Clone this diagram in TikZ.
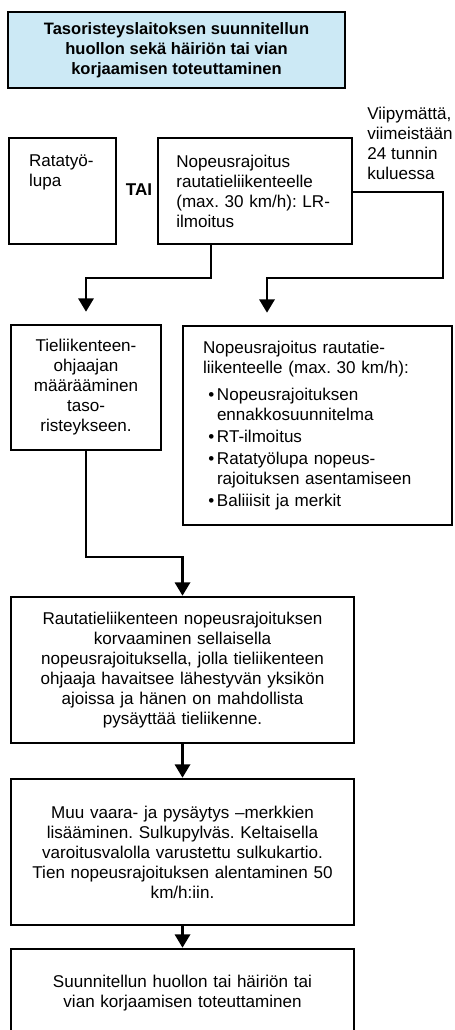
\documentclass[tikz,border=0pt]{standalone}
\usepackage{fontspec}
\setmainfont{Liberation Sans}
\frenchspacing
\usetikzlibrary{arrows.meta}
\definecolor{titleblue}{RGB}{204,233,245}

\begin{document}
\begin{tikzpicture}[x=0.75pt,y=-0.75pt]
    \useasboundingbox (0,0) rectangle (454,1030);

    \begin{scope}[every node/.style={draw,line width=2pt,inner ysep=0pt,font=\fontsize{12.8}{15}\selectfont}]
        \node [fill=titleblue,minimum width=252.75pt,minimum height=57pt,align=center,font=\bfseries\fontsize{12.4}{15}\selectfont] (A) at (176.5,50) {Tasoristeyslaitoksen suunnitellun\\huollon sekä häiriön tai vian\\korjaamisen toteuttaminen};
        \node [inner xsep=15pt,text width=50.25pt,minimum height=79.5pt,align=left] (B) at (62.5,191) {Ratatyö-\\lupa\\~\\~};
        \node [inner xsep=13.75pt,text width=118pt,minimum height=79.5pt,align=left] (C) at (255,191) {Nopeusrajoitus\\rautatieliikenteelle\\(max. 30 km/h): LR-\\ilmoitus};
        \node [inner xsep=8pt,text width=96.5pt,minimum height=93.75pt,align=center] (D) at (86,387.5) {Tieliikenteen-\\ohjaajan\\määrääminen\\taso-\\risteykseen.};
        \node [inner xsep=15pt,text width=171.75pt,minimum height=149.25pt,align=left] (E) at (317.5,425.5) {Nopeusrajoitus rautatie-\\liikenteelle (max. 30 km/h):\\[5pt]
            \makebox[10.5pt][l]{\hspace{4pt}\textbullet}Nopeusrajoituksen\\
            \hspace*{10.5pt}ennakkosuunnitelma\\[1.5pt]
            \makebox[10.5pt][l]{\hspace{4pt}\textbullet}RT-ilmoitus\\[1.5pt]
            \makebox[10.5pt][l]{\hspace{4pt}\textbullet}Ratatyölupa nopeus-\\
            \hspace*{10.5pt}rajoituksen asentamiseen\\[1.5pt]
            \makebox[10.5pt][l]{\hspace{4pt}\textbullet}Baliiisit ja merkit};
        \node [inner xsep=8pt,text width=241.25pt,minimum height=109.5pt,align=center] (F) at (182.5,670) {Rautatieliikenteen nopeusrajoituksen\\korvaaminen sellaisella\\nopeusrajoituksella, jolla tieliikenteen\\ohjaaja havaitsee lähestyvän yksikön\\ajoissa ja hänen on mahdollista\\pysäyttää tieliikenne.};
        \node [inner xsep=8pt,text width=241.25pt,minimum height=109.5pt,align=center] (G) at (182.5,852) {Muu vaara- ja pysäytys –merkkien\\lisääminen. Sulkupylväs. Keltaisella\\varoitusvalolla varustettu sulkukartio.\\Tien nopeusrajoituksen alentaminen 50\\km/h:iin.};
        \node [inner xsep=8pt,text width=241.25pt,minimum height=66pt,align=center] (H) at (182.5,993) {Suunnitellun huollon tai häiriön tai\\vian korjaamisen toteuttaminen};
        \node [draw=none,font=\bfseries\fontsize{12.8}{15}\selectfont] (T) at (139,190) {TAI};
        \node [draw=none,anchor=west,inner xsep=0pt,align=left] (V) at (366,143) {Viipymättä,\\viimeistään\\24 tunnin\\kuluessa};
    \end{scope}

    \coordinate (c1) at (211,278);
    \coordinate (c2) at (443,192);
    \coordinate (c3) at (443,278);
    \coordinate (c4) at (267,278);
    \coordinate (c5) at (182.5,557);

    \begin{scope}[every path/.style={-{Triangle[width=11.5pt,length=10pt]},line width=1.8pt}]
        \draw [shorten >=9pt] (c1 |- C.south) -- (c1) -| (D.north);
        \draw [shorten >=9pt] (C.east |- c2) -- (c2) -- (c3) -- (c4) -- (c4 |- E.north);
        \draw (D.south) |- (c5) -- (F.north);
        \path (F) edge (G);
        \path (G) edge (H);
    \end{scope}
\end{tikzpicture}
\end{document}
